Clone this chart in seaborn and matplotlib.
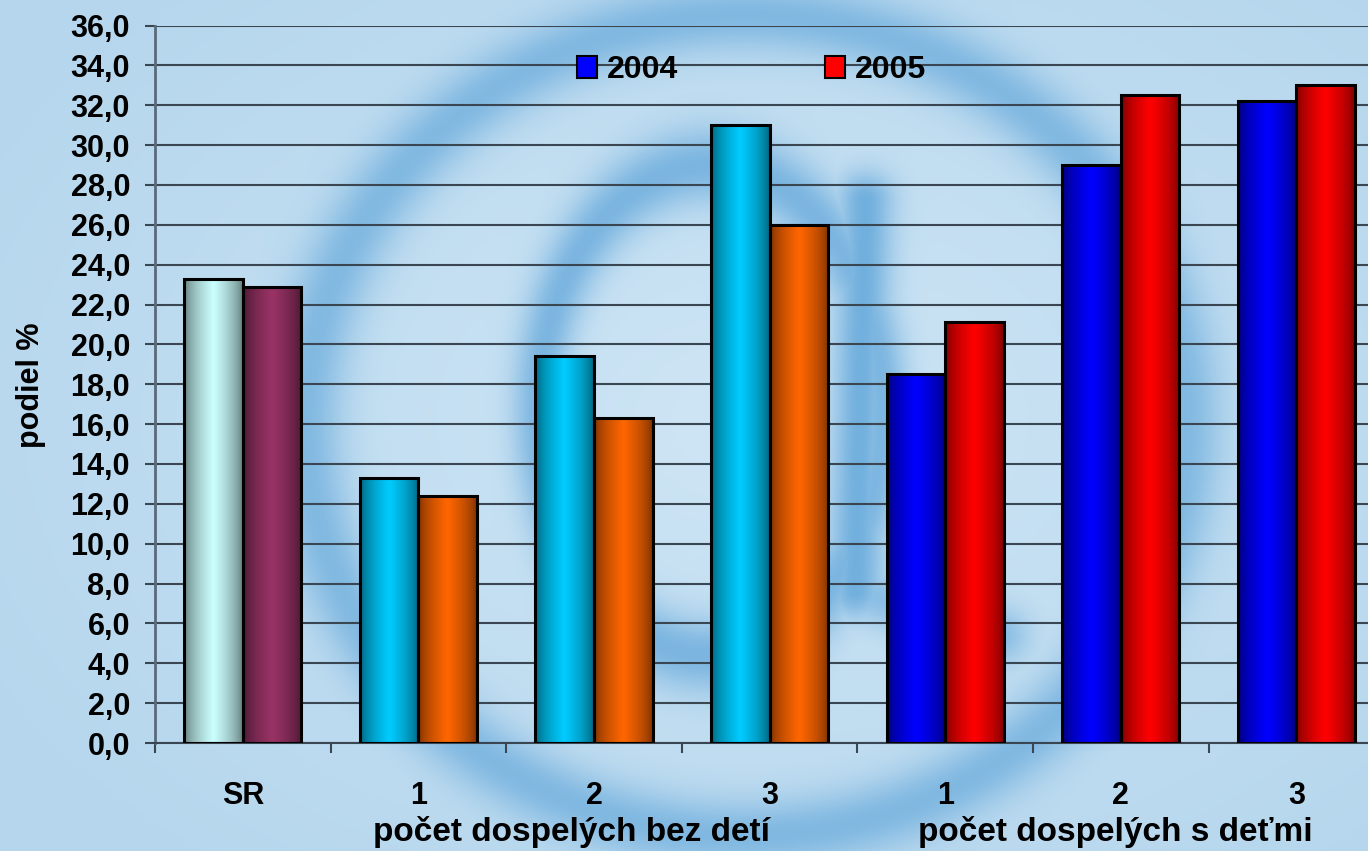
import numpy as np
import pandas as pd
import matplotlib
matplotlib.use("Agg")
import matplotlib.pyplot as plt
import seaborn as sns
from matplotlib.patches import Patch
from matplotlib.ticker import FuncFormatter

# data
categories = ["SR", "1", "2", "3", "1", "2", "3"]
group_labels = ["počet dospelých bez detí", "počet dospelých s deťmi"]
group_centers = [1.87, 4.97]
years = ["2004", "2005"]
values_2004 = [23.3, 13.3, 19.4, 31.0, 18.5, 29.0, 32.2]
values_2005 = [22.9, 12.4, 16.3, 26.0, 21.1, 32.5, 33.0]

colors_2004 = ["#ccffff", "#00ccff", "#00ccff", "#00ccff", "#0000ff", "#0000ff", "#0000ff"]
colors_2005 = ["#993366", "#ff6600", "#ff6600", "#ff6600", "#ff0000", "#ff0000", "#ff0000"]

df = pd.DataFrame({
    "poz": [str(i) for i in range(len(categories))] * 2,
    "rok": ["2004"] * len(values_2004) + ["2005"] * len(values_2005),
    "podiel": values_2004 + values_2005,
})

sns.set_theme(style="white")
plt.rcParams["font.family"] = ["Liberation Sans", "DejaVu Sans"]
plt.rcParams["font.weight"] = "bold"
plt.rcParams["text.color"] = "black"
plt.rcParams["xtick.color"] = "black"
plt.rcParams["ytick.color"] = "black"


def background(h=851, w=1368):
    # light blue backdrop with a blurred "@" swirl
    yy, xx = np.mgrid[0:h, 0:w].astype(float)
    light = np.array([0.81, 0.90, 0.96])
    edge = np.array([0.71, 0.84, 0.93])
    v = np.clip(np.hypot((xx - 760) / 900, (yy - 420) / 600), 0, 1)[..., None]
    base = light * (1 - v) + edge * v

    def ring(cx, cy, rx, ry, sig):
        r = np.hypot((xx - cx) / rx, (yy - cy) / ry)
        d = (r - 1) * (rx + ry) / 2
        return np.exp(-(d / sig) ** 2)

    def stroke(x0, y0, x1, y1, sig):
        dx, dy = x1 - x0, y1 - y0
        t = np.clip(((xx - x0) * dx + (yy - y0) * dy) / (dx * dx + dy * dy), 0, 1)
        d = np.hypot(xx - (x0 + t * dx), yy - (y0 + t * dy))
        return np.exp(-(d / sig) ** 2)

    d = np.maximum.reduce([
        0.62 * ring(745, 425, 440, 410, 36),
        0.70 * ring(710, 410, 172, 245, 32),
        0.80 * stroke(865, 200, 855, 590, 28),
        0.55 * stroke(855, 590, 1000, 635, 28),
    ])[..., None]
    blue = np.array([0.36, 0.64, 0.85])
    return base * (1 - d) + blue * d


def shade(color, n=64):
    rgb = np.array(matplotlib.colors.to_rgb(color))
    t = np.linspace(0, 1, n)
    f = 0.45 + 0.55 * (1 - np.abs(t - 0.5) / 0.5) ** 0.6
    return (rgb[None, :] * f[:, None])[None, :, :]


fig = plt.figure(figsize=(13.68, 8.51), dpi=100)
bg = fig.add_axes([0, 0, 1, 1], zorder=0)
bg.imshow(background(), aspect="auto", interpolation="bilinear")
bg.set_axis_off()

ax = fig.add_axes([155 / 1368, 108 / 851, 1 - 155 / 1368, 717.5 / 851], zorder=1)
ax.patch.set_alpha(0)

sns.barplot(data=df, x="poz", y="podiel", hue="rok", hue_order=years,
            width=0.667, edgecolor="black", linewidth=2.2, legend=False, ax=ax)

for cont, cols in zip(ax.containers, [colors_2004, colors_2005]):
    for bar, c in zip(cont, cols):
        x0, w, h = bar.get_x(), bar.get_width(), bar.get_height()
        ax.imshow(shade(c), extent=[x0, x0 + w, 0, h], aspect="auto",
                  interpolation="bilinear", zorder=2)
        bar.set_facecolor("none")
        bar.set_zorder(3)

ax.set_ylim(0, 36)
ax.set_xlim(-0.5, (1368 - 155) / 175.6 - 0.5)
ax.set_yticks(np.arange(0, 37, 2))
ax.yaxis.set_major_formatter(FuncFormatter(lambda v, p: f"{v:.1f}".replace(".", ",")))
ax.yaxis.grid(True, color="#3a4652", lw=1.5)
ax.xaxis.grid(False)

for s in ["top", "right"]:
    ax.spines[s].set_visible(False)
ax.spines["left"].set_color("#5a6a7a")
ax.spines["left"].set_linewidth(2)
ax.spines["bottom"].set_color("#3a4652")
ax.spines["bottom"].set_linewidth(1.5)

ax.set_xticks(range(len(categories)))
ax.set_xticklabels(categories)
ax.set_xticks(np.arange(-0.5, 6, 1), minor=True)
ax.tick_params(axis="y", direction="out", length=7, width=1.5, color="#3a4652",
               labelcolor="black", labelsize=22, pad=11, left=True)
ax.tick_params(axis="x", which="major", length=0, labelcolor="black", labelsize=22, pad=27)
ax.tick_params(axis="x", which="minor", direction="out", length=7, width=1.5,
               color="#3a4652", bottom=True)
ax.set_xlabel("")
ax.set_ylabel("")

for label, xc in zip(group_labels, group_centers):
    ax.text(xc, -0.124, label, transform=ax.get_xaxis_transform(),
            ha="center", va="center", fontsize=24, fontweight="bold", color="black")

fig.text(31 / 1368, 1 - 385 / 851, "podiel %", rotation=90, ha="center", va="center",
         fontsize=22, fontweight="bold", color="black")

handles = [Patch(facecolor="#0000ff", edgecolor="black", lw=1.5, label=years[0]),
           Patch(facecolor="#ff0000", edgecolor="black", lw=1.5, label=years[1])]
ax.legend(handles=handles, ncol=2, frameon=False, fontsize=23, labelcolor="black",
          handlelength=0.63, handleheight=0.66, handletextpad=0.3, columnspacing=4.6,
          loc="upper left", bbox_to_anchor=(577 / 1368, 1 - 55 / 851),
          bbox_transform=fig.transFigure, borderpad=0, borderaxespad=0)

fig.savefig("out.png", dpi=100)
